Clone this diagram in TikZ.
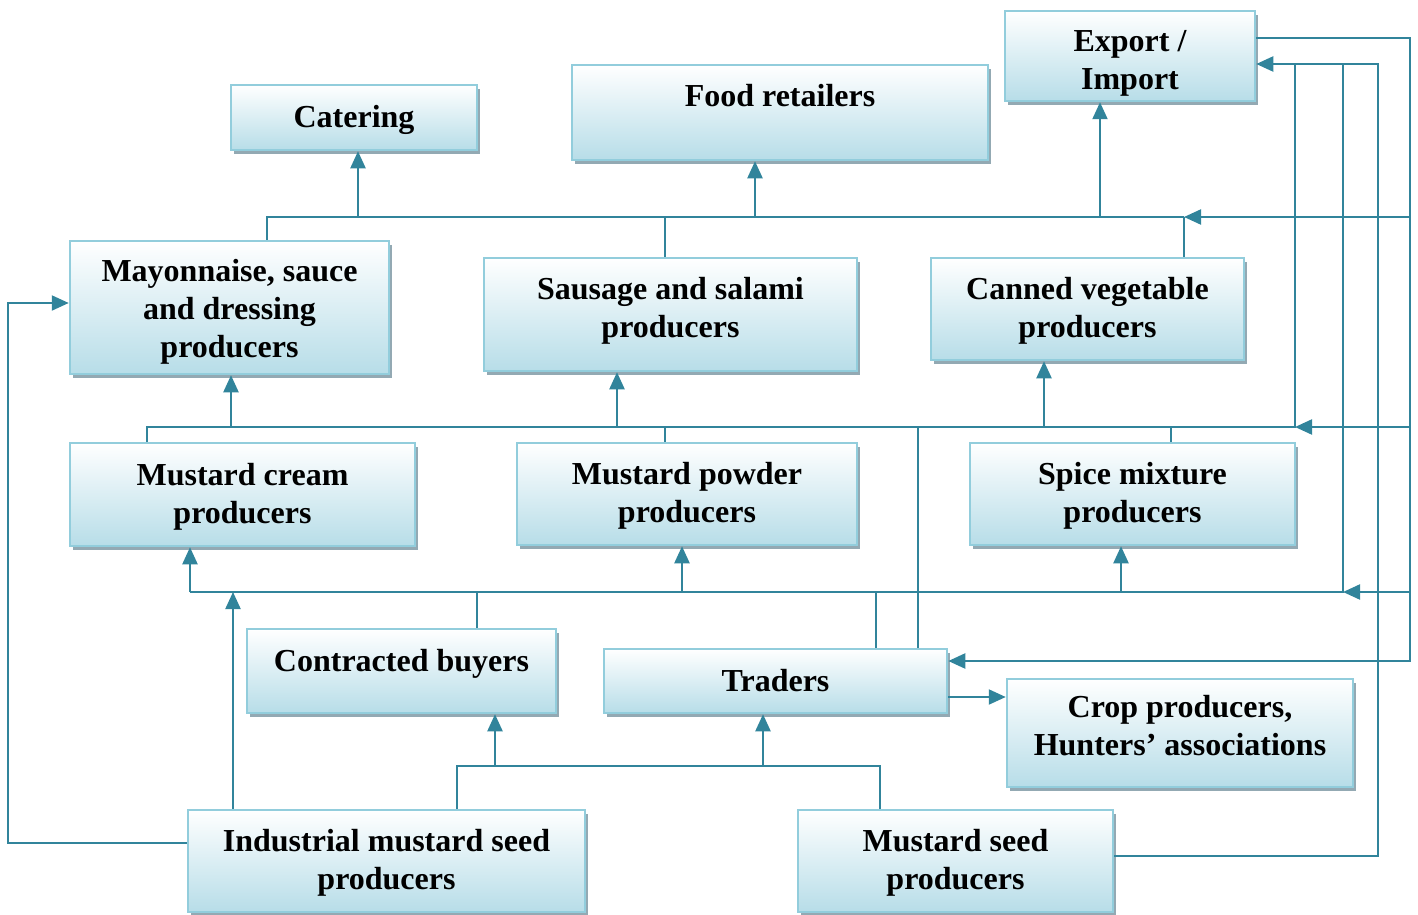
\documentclass[tikz,border=0pt]{standalone}
\usepackage{fontspec}
\setmainfont{Liberation Serif}
\usetikzlibrary{arrows.meta,shadows,positioning}
\definecolor{linkteal}{HTML}{31849B}
\definecolor{boxedge}{HTML}{92CDDC}
\definecolor{boxfill}{HTML}{B7DDE8}
\definecolor{boxshade}{HTML}{93A9B3}
\newcommand{\shiftlines}[2]{\raisebox{#1}[\height][\depth]{\begin{tabular}{@{}c@{}}#2\end{tabular}}}

\begin{document}
\begin{tikzpicture}[x=1pt,y=-1pt,>={Triangle[length=17pt,width=15pt]}, box/.style={rectangle,draw=boxedge,line width=2.5pt,top color=white,bottom color=boxfill,drop shadow={shadow xshift=3pt,shadow yshift=-4pt,fill=boxshade,opacity=1},inner sep=0pt,align=center,font=\bfseries\fontsize{32}{38}\selectfont}, boxsize/.style 2 args={minimum width=#1pt,minimum height=#2pt}, link/.style={draw=linkteal,line width=2.2pt}, ]

	\useasboundingbox (0,0) rectangle (1418,915);

	\node[box,boxsize={246}{65}] (cater) at (354,117.5) {\shiftlines{-2pt}{Catering}};
	\node[box,boxsize={416}{95},text depth=34pt] (retail) at (780,112.5) {Food retailers};
	\node[box,boxsize={250}{90}] (export) at (1130,56) {\shiftlines{-7pt}{Export /\\Import}};
	\node[box,boxsize={319}{133}] (mayo) at (229.5,307.5) {\shiftlines{-4pt}{Mayonnaise, sauce\\and dressing\\producers}};
	\node[box,boxsize={373}{113}] (sausage) at (670.5,314.5) {\shiftlines{4pt}{Sausage and salami\\producers}};
	\node[box,boxsize={313}{102}] (canned) at (1087.5,309) {\shiftlines{-2pt}{Canned vegetable\\producers}};
	\node[box,boxsize={345}{103}] (cream) at (242.5,494.5) {\shiftlines{-2pt}{Mustard cream\\producers}};
	\node[box,boxsize={340}{102}] (powder) at (687,494) {\shiftlines{-2pt}{Mustard powder\\producers}};
	\node[box,boxsize={325}{102}] (spice) at (1132.5,494) {\shiftlines{-2pt}{Spice mixture\\producers}};
	\node[box,boxsize={309}{84},text height=22pt,text depth=22pt] (buyers) at (401.5,671) {Contracted buyers};
	\node[box,boxsize={343}{64}] (traders) at (775.5,681) {Traders};
	\node[box,boxsize={346}{108}] (crop) at (1180,733) {\shiftlines{4pt}{Crop producers,\\Hunters’ associations}};
	\node[box,boxsize={397}{102}] (indus) at (386.5,861) {\shiftlines{-2pt}{Industrial mustard seed\\producers}};
	\node[box,boxsize={315}{102}] (seed) at (955.5,861) {\shiftlines{-2pt}{Mustard seed\\producers}};

	\coordinate (a1) at (267,217);
	\coordinate (a2) at (358,217);
	\coordinate (a3) at (665,217);
	\coordinate (a4) at (755,217);
	\coordinate (a5) at (1100,217);
	\coordinate (a6) at (1184,217);
	\coordinate (a7) at (1410,217);
	\coordinate (b1) at (147,427);
	\coordinate (b2) at (231,427);
	\coordinate (b3) at (617,427);
	\coordinate (b4) at (665,427);
	\coordinate (b5) at (918,427);
	\coordinate (b6) at (1044,427);
	\coordinate (b7) at (1171,427);
	\coordinate (b8) at (1295,427);
	\coordinate (b9) at (1410,427);
	\coordinate (c1) at (190,592);
	\coordinate (c2) at (233,592);
	\coordinate (c3) at (477,592);
	\coordinate (c4) at (682,592);
	\coordinate (c5) at (876,592);
	\coordinate (c6) at (1121,592);
	\coordinate (c7) at (1343,592);
	\coordinate (c8) at (1410,592);
	\coordinate (d1) at (457,766);
	\coordinate (d2) at (495,766);
	\coordinate (d3) at (763,766);
	\coordinate (d4) at (880,766);
	\coordinate (r1) at (1410,38);
	\coordinate (r2) at (1410,661);
	\coordinate (s1) at (1378,856);
	\coordinate (s2) at (1378,64);
	\coordinate (l1) at (8,843);
	\coordinate (l2) at (8,303);
	\coordinate (k1) at (952,697);

	\draw[link] (mayo.north -| a1) -- (a1) -- (a6);
	\draw[link] (sausage.north -| a3) -- (a3);
	\draw[link] (canned.north -| a6) -- (a6);
	\draw[link,->] (a2) -- (a2 |- cater.south);
	\draw[link,->] (a4) -- (a4 |- retail.south);
	\draw[link,->] (a5) -- (a5 |- export.south);
	\draw[link,->] (a7) -- (a6);

	\draw[link] (cream.north -| b1) -- (b1) -- (b8) -- (b8 |- s2);
	\draw[link] (powder.north -| b4) -- (b4);
	\draw[link] (spice.north -| b7) -- (b7);
	\draw[link] (b5) -- (b5 |- traders.north);
	\draw[link,->] (b2) -- (b2 |- mayo.south);
	\draw[link,->] (b3) -- (b3 |- sausage.south);
	\draw[link,->] (b6) -- (b6 |- canned.south);
	\draw[link,->] (b9) -- (b8);

	\draw[link] (c1) -- (c7) -- (c7 |- s2);
	\draw[link] (buyers.north -| c3) -- (c3);
	\draw[link] (traders.north -| c5) -- (c5);
	\draw[link,->] (c1) -- (c1 |- cream.south);
	\draw[link,->] (c4) -- (c4 |- powder.south);
	\draw[link,->] (c6) -- (c6 |- spice.south);
	\draw[link,->] (indus.north -| c2) -- (c2);
	\draw[link,->] (c8) -- (c7);

	\draw[link] (indus.north -| d1) -- (d1) -- (d4) -- (seed.north -| d4);
	\draw[link,->] (d2) -- (d2 |- buyers.south);
	\draw[link,->] (d3) -- (d3 |- traders.south);

	\draw[link,->] (export.east |- r1) -- (r1) -- (r2) -- (r2 -| traders.east);
	\draw[link,->] (seed.east |- s1) -- (s1) -- (s2) -- (s2 -| export.east);
	\draw[link,->] (indus.west |- l1) -- (l1) -- (l2) -- (l2 -| mayo.west);
	\draw[link,->] (traders.east |- k1) -- (k1 -| crop.west);

\end{tikzpicture}
\end{document}
